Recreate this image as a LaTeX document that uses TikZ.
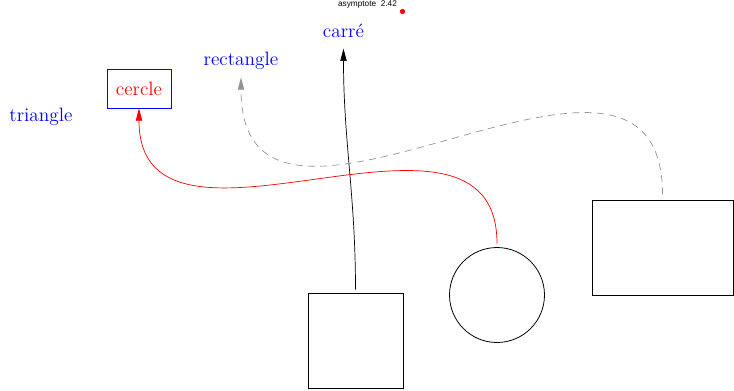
\documentclass[tikz,border=0pt]{standalone}
\usepackage{fontspec}
\newfontfamily\petitefonte{Liberation Sans}
\usetikzlibrary{arrows.meta}
\begin{document}
\begin{tikzpicture}[x=0.02cm, y=0.02cm,
    etiquette/.style={blue, anchor=base, font=\fontsize{11}{13}\selectfont},
    forme/.style={draw, line width=0.45pt, inner sep=0pt},
    pointe/.style={-{Triangle[length=7pt, width=3.6pt]}}]
    \useasboundingbox (0,0) rectangle (734,-390);
    % etiquettes
    \node[etiquette] (ltriangle) at (41,-121) {triangle};
    \node[etiquette] (lrectangle) at (241,-65.5) {rectangle};
    \node[etiquette] (lcarre) at (343.5,-37) {carré};
    \node[draw=blue, text=red, font=\fontsize{11}{13}\selectfont,
          minimum width=1.28cm, minimum height=0.78cm] (lcercle) at (139,-88.5) {cercle};
    % asymptote
    \node[font=\petitefonte\fontsize{4.7}{5}\selectfont, inner sep=0pt] (asy) at (367.5,-4.5) {asymptote\ \ 2.42};
    \fill[red] (402.5,-11.5) circle (2.6);
    % formes
    \node[forme, rectangle, minimum size=1.9cm] (carre) at (355.5,-341) {};
    \node[forme, circle, minimum size=1.9cm] (cercle) at (497,-295) {};
    \node[forme, rectangle, minimum width=2.82cm, minimum height=1.9cm] (rect) at (662.5,-247.5) {};
    % fleches
    \draw[pointe, shorten <=2pt, shorten >=3pt] (carre) to[out=90, in=-90] (lcarre);
    \draw[pointe, red, shorten <=2pt] (cercle) to[out=90, in=-90, looseness=1.2] (lcercle);
    \draw[pointe, gray!85, dash pattern=on 4pt off 3pt, shorten <=3pt, shorten >=1pt] (rect) to[out=90, in=-90, looseness=1.35] (lrectangle);
\end{tikzpicture}
\end{document}
